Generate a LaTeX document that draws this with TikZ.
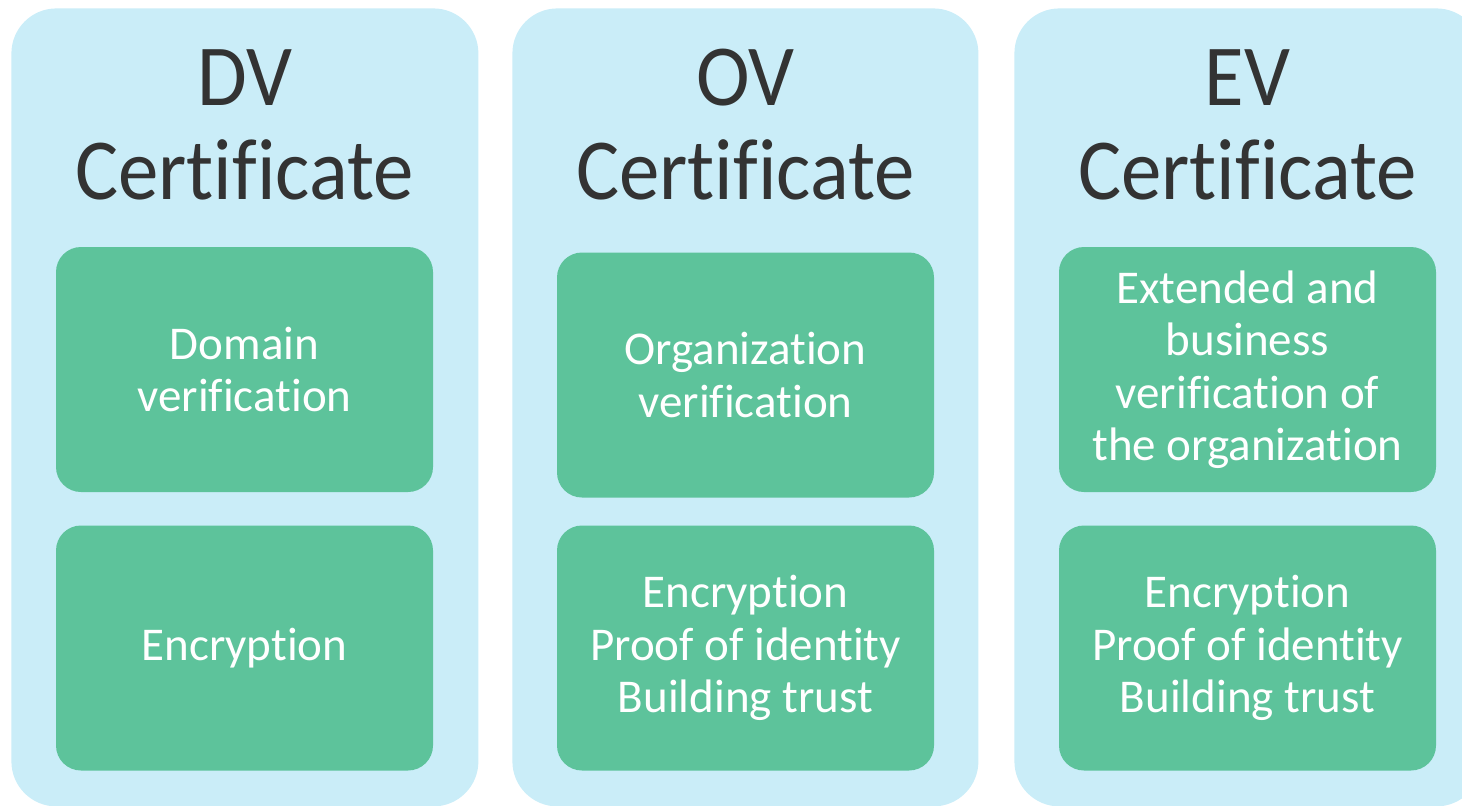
\documentclass[tikz,border=0pt]{standalone}
\usepackage{fontspec}
\setmainfont{Carlito}[Ligatures=NoCommon]
\newfontfamily\titlefont{Carlito}[Ligatures=NoCommon, FakeStretch=0.93]
\definecolor{colbg}{HTML}{CAEDF8}
\definecolor{cardgreen}{HTML}{5DC39B}
\definecolor{titlegray}{HTML}{333333}
\tikzset{
  column/.style={fill=colbg, rounded corners=22.5pt, minimum width=233.5pt,
    minimum height=399pt, inner sep=0pt, anchor=north west},
  coltitle/.style={text=titlegray, align=center, inner sep=0pt,
    font=\titlefont\fontsize{43.5pt}{47pt}\selectfont},
  card/.style={fill=cardgreen, rounded corners=12.5pt, minimum width=188.5pt,
    minimum height=122.5pt, inner sep=0pt, text=white, align=center,
    font=\fontsize{23.5pt}{26.25pt}\selectfont}
}
\begin{document}
\begin{tikzpicture}[x=0.5pt,y=-0.5pt]
\useasboundingbox (0,0) rectangle (1462,805);
\clip (0,0) rectangle (1462,805);
% columns
\node[column] (dvcol) at (11,8) {};
\node[column, minimum width=233pt] (ovcol) at (512,8) {};
\node[column] (evcol) at (1014,8) {};
% titles
\node[coltitle] (dvtitle) at (244.5,124.5) {DV\\Certificate};
\node[coltitle] (ovtitle) at (745.5,124.5) {OV\\Certificate};
\node[coltitle] (evtitle) at (1247.5,124.5) {EV\\Certificate};
% cards
\node[card] (dvtop) at (244.5,369.5) {Domain\\verification};
\node[card] (dvbot) at (244.5,648) {Encryption};
\node[card] (ovtop) at (745.5,375) {Organization\\verification};
\node[card] (ovbot) at (745.5,648) {Encryption\\Proof of identity\\Building trust};
\node[card] (evtop) at (1247.5,369.5) {Extended and\\business\\verification of\\the organization};
\node[card] (evbot) at (1247.5,648) {Encryption\\Proof of identity\\Building trust};
\end{tikzpicture}
\end{document}
